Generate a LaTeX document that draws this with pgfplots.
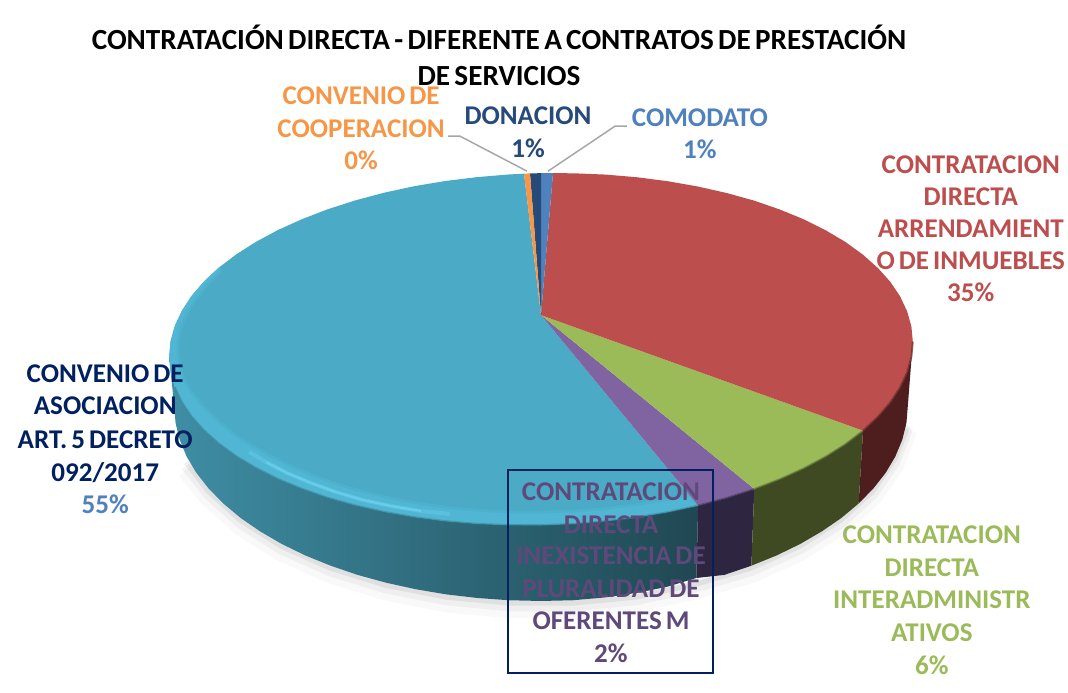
\documentclass[border=0pt]{standalone}
\usepackage{pgfplots}
\pgfplotsset{compat=1.18}
\usepackage{fontspec}
\setmainfont[WordSpace=0.65]{Carlito}
\definecolor{cteal}{HTML}{4BAAC5}
\definecolor{cband}{HTML}{50B6D4}
\definecolor{chigh}{HTML}{74D8F3}
\definecolor{cred}{HTML}{BC4F4D}
\definecolor{cgreen}{HTML}{9BBB59}
\definecolor{cpurple}{HTML}{8064A2}
\definecolor{corange}{HTML}{F79646}
\definecolor{cnavy}{HTML}{264A7A}
\definecolor{cblue}{HTML}{4F81BD}
\definecolor{credside}{HTML}{4E1E1E}
\definecolor{cgreenside}{HTML}{3F4A22}
\definecolor{cpurpleside}{HTML}{2E2640}
\definecolor{ctxtpurple}{HTML}{5F497A}
\definecolor{ctxtnavy}{HTML}{002060}
\definecolor{ctxtgreen}{HTML}{9BBB59}
\newcommand{\lbl}[4]{\node[anchor=base,inner sep=0pt,text=#3,font=\fontsize{20.3pt}{24pt}\selectfont\bfseries] at (axis cs:#1,#2) {#4};}
\newcommand{\ttl}[3]{\node[anchor=base,inner sep=0pt,text=black,font=\fontsize{21.9pt}{25pt}\selectfont\bfseries] at (axis cs:#1,#2) {#3};}
\begin{document}
\begin{tikzpicture}
\begin{axis}[
  scale only axis, width=801pt, height=519pt,
  xmin=0, xmax=1068, ymin=0, ymax=692, y dir=reverse,
  hide axis, clip=false]
% page
\addplot[draw=white,fill=white,forget plot] coordinates {(0,0)(1068,0)(1068,692)(0,692)} -- cycle;
% soft shadow under the lower rim
\addplot[draw=black,line width=14pt,opacity=0.025,forget plot] coordinates {(186,470)(208,497)(240,526)(281,552)(330,574)(385,591)(446,603)(509,609)(573,609)(636,603)(696,590)(751,574)(800,552)(841,526)(873,497)(895,465)(908,430)};
\addplot[draw=black,line width=8pt,opacity=0.04,forget plot] coordinates {(186,466)(208,494)(240,523)(281,549)(330,571)(385,588)(446,600)(509,606)(573,606)(636,600)(696,587)(751,571)(800,549)(841,523)(873,494)(895,462)(908,428)};
\addplot[draw=black,line width=4pt,opacity=0.06,forget plot] coordinates {(186,462)(208,491)(240,520)(281,546)(330,568)(385,585)(446,597)(509,603)(573,603)(636,597)(696,584)(751,568)(800,546)(841,520)(873,491)(895,459)(908,426)};
% side: 55% slice
\addplot[draw=none,left color=black!5!cteal!88!black,middle color=cteal!72!black,right color=cteal!42!black,forget plot] coordinates {
(169,356.4)(170.4,371.7)(174.7,386.9)(181.7,401.7)(191.4,416.2)(203.9,430.1)(218.8,443.4)(236.3,456.1)(256,467.8)(278,478.8)(301.9,488.6)(327.6,497.5)(355,505.1)(383.8,511.6)(413.8,516.9)(444.7,520.9)(476.4,523.6)(508.6,524.9)(541,525)(573.4,523.7)(605.6,521)(637.3,517.1)(668.2,511.9)(698.2,505.4)
(696.5,578)(666.5,587)(636,593)(604.7,597.5)(573,600.3)(541,601)(509,600.3)(477.3,598)(446,594.4)(415.5,589.2)(385.9,582.7)(357.5,574.9)(330.5,565.7)(305.1,555.4)(281.5,543.9)(259.9,531.3)(240.4,517.9)(223.2,503.5)(208.4,488.4)(196.1,472.7)(186.5,456.5)(179.6,439.9)(175.4,423)(174,406)} -- cycle;
% side: 2% slice
\addplot[draw=none,fill=cpurpleside,forget plot] coordinates {(698.2,505.4)(727,497.7)(754.4,488.9)(751.5,565.7)(724.5,574.9)(696.5,578)} -- cycle;
% side: 6% slice
\addplot[draw=none,fill=cgreenside,forget plot] coordinates {(754.4,488.9)(780.1,479)(804,468.2)(826,456.4)(845.7,443.9)(863.2,430.6)(858.8,503.5)(841.6,517.9)(822.1,531.3)(800.5,543.9)(776.9,555.4)(751.5,565.7)} -- cycle;
% side: 35% slice
\addplot[draw=none,fill=credside,forget plot] coordinates {(863.2,430.6)(878.1,416.7)(890.6,402.2)(900.3,387.3)(907.3,372.3)(911.6,356.9)(913,341.6)(908,406)(906.6,423)(902.4,439.9)(895.5,456.5)(885.9,472.7)(873.6,488.4)(858.8,503.5)} -- cycle;
% top: 55% slice
\addplot[draw=none,fill=cteal,forget plot] coordinates {(541,315)(524,173.5)(508.6,174.3)(476.4,177)(444.7,180.9)(413.8,186.1)(383.8,192.6)(355,200.3)(327.6,209.1)(301.9,219)(278,229.8)(256,241.6)(236.3,254.1)(218.8,267.4)(203.9,281.3)(191.4,295.8)(181.7,310.7)(174.7,325.7)(170.4,341.1)(169,356.4)(170.4,371.7)(174.7,386.9)(181.7,401.7)(191.4,416.2)(203.9,430.1)(218.8,443.4)(236.3,456.1)(256,467.8)(278,478.8)(301.9,488.6)(327.6,497.5)(355,505.1)(383.8,511.6)(413.8,516.9)(444.7,520.9)(476.4,523.6)(508.6,524.9)(541,525)(573.4,523.7)(605.6,521)(637.3,517.1)(668.2,511.9)(698.2,505.4)} -- cycle;
% rim of the 55% slice
\addplot[draw=none,fill=cband,forget plot] coordinates {(218.8,267.4)(203.9,281.3)(191.4,295.8)(181.7,310.7)(174.7,325.7)(170.4,341.1)(169,356.4)(170.4,371.7)(174.7,386.9)(181.7,401.7)(191.4,416.2)(203.9,430.1)(218.8,443.4)(236.3,456.1)(256,467.8)(278,478.8)(301.9,488.6)(327.6,497.5)(355,505.1)(383.8,511.6)(413.8,516.9)(444.7,520.9)(476.4,523.6)(508.6,524.9)(541,525)(573.4,523.7)(605.6,521)(637.3,517.1)(668.2,511.9)(698.2,505.4)
(698,493)(668,499.5)(637,504.5)(605,508.5)(573,511)(541,512)(512,512)(482,510.5)(453,508)(424,504)(395,499)(367,492.5)(340,485)(315,476)(291,466)(269,455)(249,444)(231,432)(216,419)(203,406)(192,393)(184,380)(180,367)(178,355)(178,341)(181,327)(187,313)(196,299)(208,284)(222,270)} -- cycle;
% soft inner edge of the rim
\addplot[draw=cteal!50!cband,line width=2pt,forget plot] coordinates {(698,493)(668,499.5)(637,504.5)(605,508.5)(573,511)(541,512)(512,512)(482,510.5)(453,508)(424,504)(395,499)(367,492.5)(340,485)(315,476)(291,466)(269,455)(249,444)(231,432)(216,419)(203,406)(192,393)(184,380)(180,367)(178,355)(178,341)(181,327)(187,313)(196,299)(208,284)(222,270)};
\addplot[draw=chigh,line width=3pt,opacity=0.3,forget plot] coordinates {(249,452)(266,462)(287,473)(311,483)(336,492)(363,500)(391,506)(421,511)(450,514)};
\addplot[draw=chigh,line width=1.6pt,opacity=0.55,forget plot] coordinates {(266,462)(287,473)(311,483)(336,492)(363,500)(391,506)(421,511)};
\addplot[draw=cteal!78!black,line width=1.2pt,opacity=0.6,forget plot] coordinates {(174.7,386.9)(181.7,401.7)(191.4,416.2)(203.9,430.1)(218.8,443.4)(236.3,456.1)(256,467.8)(278,478.8)(301.9,488.6)(327.6,497.5)(355,505.1)(383.8,511.6)(413.8,516.9)(444.7,520.9)(476.4,523.6)(508.6,524.9)(541,525)(573.4,523.7)(605.6,521)(637.3,517.1)(668.2,511.9)(698.2,505.4)};
% top: 2% slice
\addplot[draw=none,fill=cpurple,forget plot] coordinates {(541,315)(698.2,505.4)(727,497.7)(754.4,488.9)} -- cycle;
\addplot[draw=cpurple!60!black,line width=1.2pt,opacity=0.7,forget plot] coordinates {(698.2,505.4)(727,497.7)(754.4,488.9)};
% top: 6% slice
\addplot[draw=none,fill=cgreen,forget plot] coordinates {(541,315)(754.4,488.9)(780.1,479)(804,468.2)(826,456.4)(845.7,443.9)(863.2,430.6)} -- cycle;
\addplot[draw=cgreen!60!black,line width=1.2pt,opacity=0.7,forget plot] coordinates {(754.4,488.9)(780.1,479)(804,468.2)(826,456.4)(845.7,443.9)(863.2,430.6)};
% top: 35% slice
\addplot[draw=none,fill=cred,forget plot] coordinates {(541,315)(863.2,430.6)(878.1,416.7)(890.6,402.2)(900.3,387.3)(907.3,372.3)(911.6,356.9)(913,341.6)(911.6,326.3)(907.3,311.1)(900.3,296.3)(890.6,281.8)(878.1,267.9)(863.2,254.6)(845.7,241.9)(826,230.2)(804,219.2)(780.1,209.4)(754.4,200.5)(727,192.9)(698.2,186.4)(668.2,181.1)(637.3,177.1)(605.6,174.4)(573.4,173.1)(553,173)} -- cycle;
\addplot[draw=cred!55!black,line width=1.4pt,opacity=0.7,forget plot] coordinates {(863.2,430.6)(878.1,416.7)(890.6,402.2)(900.3,387.3)(907.3,372.3)(911.6,356.9)(913,341.6)};
% top: 1% comodato, 1% donacion, 0% convenio
\addplot[draw=none,fill=cblue,forget plot] coordinates {(541,315)(553,173)(541,173)} -- cycle;
\addplot[draw=none,fill=cnavy,forget plot] coordinates {(541,315)(541,173)(530,173.2)} -- cycle;
\addplot[draw=none,fill=corange,forget plot] coordinates {(541,315)(530,173.2)(524,173.5)} -- cycle;
% leader lines
\addplot[draw=black!35,line width=1.1pt,forget plot] coordinates {(448,136)(460,136)(527,171)};
\addplot[draw=black!35,line width=1.1pt,forget plot] coordinates {(627,126)(615,126)(548,171)};
% boxed label frame
\addplot[draw=ctxtnavy,line width=1.1pt,forget plot] coordinates {(508,470)(713,470)(713,673)(508,673)} -- cycle;
% title
\ttl{499}{49}{CONTRATACIÓN DIRECTA - DIFERENTE A CONTRATOS DE PRESTACIÓN}
\ttl{499}{85}{DE SERVICIOS}
% labels
\lbl{361}{104}{corange}{CONVENIO DE}
\lbl{361}{137}{corange}{COOPERACION}
\lbl{361}{169}{corange}{0\%}
\lbl{528}{124}{cnavy}{DONACION}
\lbl{528}{157}{cnavy}{1\%}
\lbl{700}{126}{cblue}{COMODATO}
\lbl{700}{158}{cblue}{1\%}
\lbl{971}{173}{cred}{CONTRATACION}
\lbl{971}{205}{cred}{DIRECTA}
\lbl{971}{237}{cred}{ARRENDAMIENT}
\lbl{971}{269}{cred}{O DE INMUEBLES}
\lbl{971}{301}{cred}{35\%}
\lbl{932}{544}{ctxtgreen}{CONTRATACION}
\lbl{932}{577}{ctxtgreen}{DIRECTA}
\lbl{932}{609}{ctxtgreen}{INTERADMINISTR}
\lbl{932}{642}{ctxtgreen}{ATIVOS}
\lbl{932}{675}{ctxtgreen}{6\%}
\lbl{611}{500}{ctxtpurple}{CONTRATACION}
\lbl{611}{533}{ctxtpurple}{DIRECTA}
\lbl{611}{565}{ctxtpurple}{INEXISTENCIA DE}
\lbl{611}{598}{ctxtpurple}{PLURALIDAD DE}
\lbl{611}{630}{ctxtpurple}{OFERENTES M}
\lbl{611}{663}{ctxtpurple}{2\%}
\lbl{105}{382}{ctxtnavy}{CONVENIO DE}
\lbl{105}{414}{ctxtnavy}{ASOCIACION}
\lbl{105}{448}{ctxtnavy}{ART. 5 DECRETO}
\lbl{105}{481}{ctxtnavy}{092/2017}
\lbl{105}{513}{cblue}{55\%}
\end{axis}
\end{tikzpicture}
\end{document}
